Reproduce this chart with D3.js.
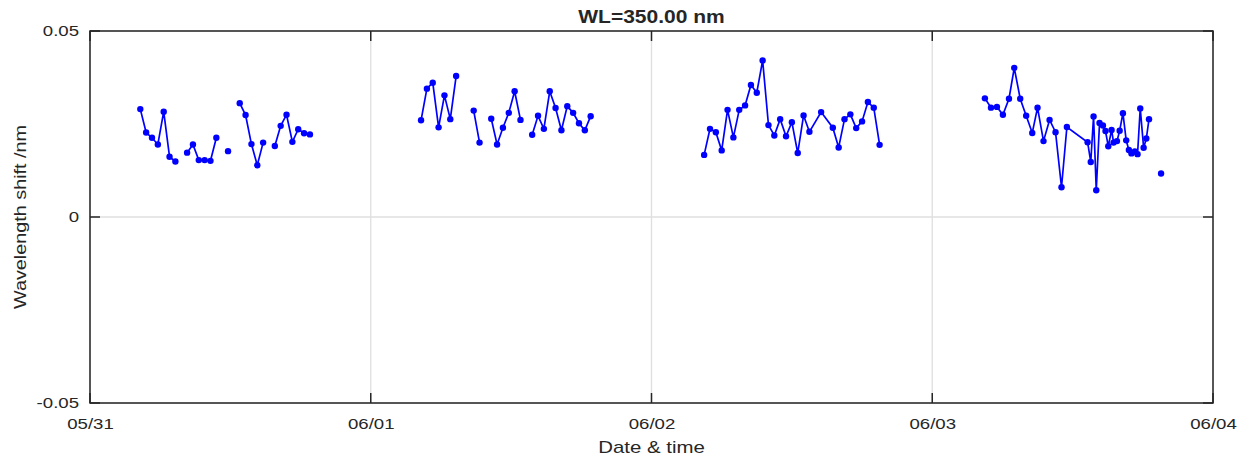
<!DOCTYPE html>
<html>
<head>
<meta charset="utf-8">
<script src="https://cdn.jsdelivr.net/npm/d3@7"></script>
<style>
  body { margin: 0; background: #fff; }
  text { font-family: "Liberation Sans", Arial, sans-serif; fill: #262626; }
</style>
</head>
<body>
<div id="chart"></div>
<script>
// chart size, same as the window
var svgWidth = 1248;
var svgHeight = 463;

var margin = { top: 31, right: 35, bottom: 60, left: 90 };
var width = svgWidth - margin.left - margin.right;
var height = svgHeight - margin.top - margin.bottom;

// data: hours after midnight for each day, and wavelength shift (nm)
// null = missing sample (breaks the line)
var day1Hours = [4.3, 4.8, 5.3, 5.8, 6.3, 6.8, 7.3, 7.8, 8.3, 8.8, 9.3, 9.8, 10.3, 10.8, 11.3,
  11.8, 12.3, 12.8, 13.3, 13.8, 14.3, 14.8, 15.3, 15.8, 16.3, 16.8, 17.3, 17.8, 18.3, 18.8];
var day1Shift = [0.0290, 0.0227, 0.0213, 0.0195, 0.0283, 0.0162, 0.0149, null, 0.0173, 0.0195,
  0.0153, 0.0153, 0.0151, 0.0213, null, 0.0177, null, 0.0306, 0.0274, 0.0196, 0.0139, 0.0200,
  null, 0.0191, 0.0245, 0.0275, 0.0202, 0.0236, 0.0225, 0.0222];

var day2Hours = [4.3, 4.8, 5.3, 5.8, 6.3, 6.8, 7.3, 7.8, 8.3, 8.8, 9.3, 9.8, 10.3, 10.8, 11.3,
  11.8, 12.3, 12.8, 13.3, 13.8, 14.3, 14.8, 15.3, 15.8, 16.3, 16.8, 17.3, 17.8, 18.3, 18.8];
var day2Shift = [0.0260, 0.0345, 0.0361, 0.0241, 0.0327, 0.0263, 0.0379, null, null, 0.0286,
  0.0200, null, 0.0264, 0.0195, 0.0240, 0.0280, 0.0338, 0.0261, null, 0.0221, 0.0272, 0.0237,
  0.0338, 0.0293, 0.0233, 0.0298, 0.0280, 0.0252, 0.0233, 0.0271];

var day3Hours = [4.5, 5.0, 5.5, 6.0, 6.5, 7.0, 7.5, 8.0, 8.5, 9.0, 9.5, 10.0, 10.5, 11.0, 11.5,
  12.0, 12.5, 13.0, 13.5, 14.5, 15.5, 16.0, 16.5, 17.0, 17.5, 18.0, 18.5, 19.0, 19.5];
var day3Shift = [0.0167, 0.0237, 0.0228, 0.0179, 0.0288, 0.0214, 0.0288, 0.0300, 0.0355, 0.0334,
  0.0421, 0.0247, 0.0219, 0.0263, 0.0217, 0.0255, 0.0172, 0.0273, 0.0229, 0.0282, 0.0240,
  0.0187, 0.0263, 0.0276, 0.0239, 0.0257, 0.0309, 0.0294, 0.0194];

var day4Hours = [4.50, 5.02, 5.53, 6.04, 6.56, 7.01, 7.52, 8.03, 8.55, 9.00, 9.51, 10.03, 10.54,
  11.05, 11.51, 13.28, 13.55, 13.79, 14.02, 14.30, 14.59, 14.81, 15.05, 15.33, 15.50, 15.79,
  16.02, 16.30, 16.58, 16.81, 17.03, 17.32, 17.55, 17.78, 18.07, 18.30, 18.53, 19.0, 19.56];
var day4Shift = [0.0319, 0.0294, 0.0296, 0.0275, 0.0318, 0.0401, 0.0318, 0.0272, 0.0226, 0.0294,
  0.0204, 0.0261, 0.0228, 0.0080, 0.0242, 0.0201, 0.0148, 0.0270, 0.0072, 0.0253, 0.0246,
  0.0231, 0.0190, 0.0234, 0.0200, 0.0204, 0.0232, 0.0279, 0.0206, 0.0180, 0.0171, 0.0176,
  0.0169, 0.0292, 0.0186, 0.0211, 0.0263, null, 0.0117];

var dayStarts = ["2021-05-31", "2021-06-01", "2021-06-02", "2021-06-03"];
var xTicks = ["2021-05-31", "2021-06-01", "2021-06-02", "2021-06-03", "2021-06-04"];
var yTicks = [-0.05, 0, 0.05];

var parseDay = d3.utcParse("%Y-%m-%d");
var hoursList = [day1Hours, day2Hours, day3Hours, day4Hours];
var shiftList = [day1Shift, day2Shift, day3Shift, day4Shift];

// one long series of {date, value}
var data = [];
dayStarts.forEach(function(day, i) {
  var start = parseDay(day);
  hoursList[i].forEach(function(h, j) {
    data.push({ date: new Date(start.getTime() + h * 3600000), value: shiftList[i][j] });
  });
  // break between days
  data.push({ date: new Date(start.getTime() + 20 * 3600000), value: null });
});

var svg = d3.select("#chart")
  .append("svg")
  .attr("width", svgWidth)
  .attr("height", svgHeight);

var chartGroup = svg.append("g")
  .attr("transform", `translate(${margin.left}, ${margin.top})`);

var xScale = d3.scaleUtc()
  .domain([parseDay(xTicks[0]), parseDay(xTicks[xTicks.length - 1])])
  .range([0, width]);

var yScale = d3.scaleLinear()
  .domain([-0.05, 0.05])
  .range([height, 0]);

var xTickDates = xTicks.map(parseDay);

// grid lines
chartGroup.append("g")
  .selectAll("line")
  .data(xTickDates)
  .enter()
  .append("line")
  .attr("x1", d => xScale(d))
  .attr("x2", d => xScale(d))
  .attr("y1", 0)
  .attr("y2", height)
  .attr("stroke", "#dfdfdf")
  .attr("stroke-width", 1.3);

chartGroup.append("g")
  .selectAll("line")
  .data(yTicks)
  .enter()
  .append("line")
  .attr("x1", 0)
  .attr("x2", width)
  .attr("y1", d => yScale(d))
  .attr("y2", d => yScale(d))
  .attr("stroke", "#dfdfdf")
  .attr("stroke-width", 1.3);

// axes for the labels (ticks drawn below)
var bottomAxis = d3.axisBottom(xScale)
  .tickValues(xTickDates)
  .tickFormat(d3.utcFormat("%m/%d"))
  .tickSize(0)
  .tickPadding(15);
var leftAxis = d3.axisLeft(yScale)
  .tickValues(yTicks)
  .tickFormat(d => d === 0 ? "0" : d3.format(".2f")(d).replace("\u2212", "-"))
  .tickSize(0)
  .tickPadding(11);

function styleAxis(g) {
  g.select(".domain").remove();
  g.selectAll(".tick line").remove();
  g.selectAll(".tick text")
    .style("font-size", "15.5px")
    .attr("fill", "#262626");
}

chartGroup.append("g")
  .attr("transform", `translate(0, ${height})`)
  .call(bottomAxis)
  .call(styleAxis);
chartGroup.append("g").call(leftAxis).call(styleAxis);

// inward tick marks on all four sides
var tickLen = 10;
var ticks = chartGroup.append("g")
  .attr("stroke", "#262626")
  .attr("stroke-width", 1.5);
[0, height].forEach(function(y0) {
  var dir = y0 === 0 ? 1 : -1;
  ticks.selectAll(null)
    .data(xTickDates)
    .enter()
    .append("line")
    .attr("x1", d => xScale(d))
    .attr("x2", d => xScale(d))
    .attr("y1", y0)
    .attr("y2", y0 + dir * tickLen);
});
[0, width].forEach(function(x0) {
  var dir = x0 === 0 ? 1 : -1;
  ticks.selectAll(null)
    .data(yTicks)
    .enter()
    .append("line")
    .attr("x1", x0)
    .attr("x2", x0 + dir * tickLen)
    .attr("y1", d => yScale(d))
    .attr("y2", d => yScale(d));
});

// box
chartGroup.append("rect")
  .attr("width", width)
  .attr("height", height)
  .attr("fill", "none")
  .attr("stroke", "#262626")
  .attr("stroke-width", 1.5);

// the series
var line = d3.line()
  .defined(d => d.value !== null)
  .x(d => xScale(d.date))
  .y(d => yScale(d.value));

chartGroup.append("path")
  .datum(data)
  .attr("d", line)
  .attr("fill", "none")
  .attr("stroke", "#0000ff")
  .attr("stroke-width", 1.7);

chartGroup.selectAll(".dot")
  .data(data.filter(d => d.value !== null))
  .enter()
  .append("circle")
  .attr("class", "dot")
  .attr("cx", d => xScale(d.date))
  .attr("cy", d => yScale(d.value))
  .attr("r", 3.2)
  .attr("fill", "#0000ff");

// title and axis labels
svg.append("text")
  .attr("x", margin.left + width / 2)
  .attr("y", 23)
  .attr("text-anchor", "middle")
  .style("font-size", "17.5px")
  .style("font-weight", "bold")
  .attr("fill", "#000")
  .text("WL=350.00 nm");

svg.append("text")
  .attr("x", margin.left + width / 2)
  .attr("y", 453)
  .attr("text-anchor", "middle")
  .style("font-size", "17px")
  .text("Date & time");

svg.append("text")
  .attr("transform", "rotate(-90)")
  .attr("x", -(margin.top + height / 2))
  .attr("y", 26)
  .attr("text-anchor", "middle")
  .style("font-size", "16.5px")
  .text("Wavelength shift /nm");

// the reference font runs a bit wider than Liberation Sans, stretch glyphs
svg.selectAll("text").each(function() {
  var w = this.getComputedTextLength();
  if (w > 0) {
    d3.select(this)
      .attr("textLength", w * 1.2)
      .attr("lengthAdjust", "spacingAndGlyphs");
  }
});
</script>
</body>
</html>
